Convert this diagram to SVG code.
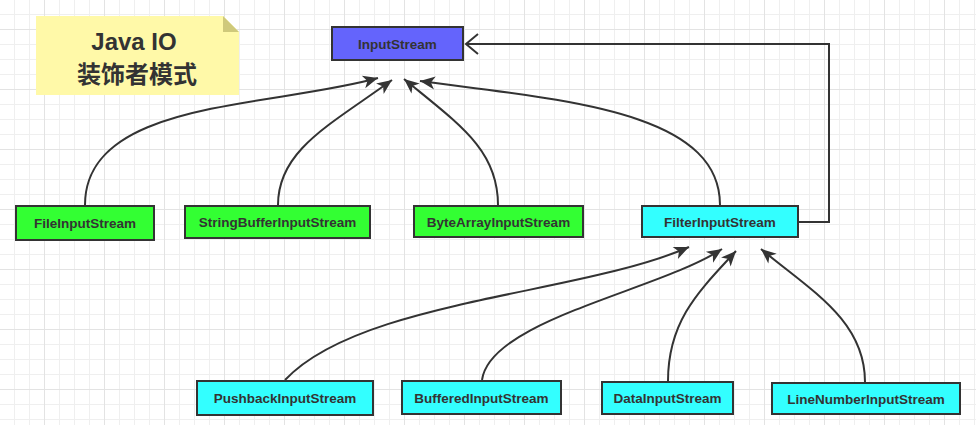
<svg xmlns="http://www.w3.org/2000/svg" width="976" height="425" viewBox="0 0 976 425">
<defs>
  <pattern id="grid" x="14" y="14" width="60" height="60" patternUnits="userSpaceOnUse">
    <rect x="0" y="0" width="1" height="60" fill="#efefef"/>
    <rect x="15" y="0" width="1" height="60" fill="#efefef"/>
    <rect x="45" y="0" width="1" height="60" fill="#efefef"/>
    <rect x="0" y="0" width="60" height="1" fill="#efefef"/>
    <rect x="0" y="30" width="60" height="1" fill="#efefef"/>
    <rect x="0" y="45" width="60" height="1" fill="#efefef"/>
    <rect x="30" y="0" width="1" height="60" fill="#e3e3e3"/>
    <rect x="0" y="15" width="60" height="1" fill="#e3e3e3"/>
  </pattern>
  <marker id="arr" viewBox="-16 -7 17 14" refX="0" refY="0" markerWidth="17" markerHeight="14" markerUnits="userSpaceOnUse" orient="auto">
    <path d="M0,0 L-15,-6.5 L-11,0 L-15,6.5 Z" fill="#333333"/>
  </marker>
  <marker id="open" viewBox="-15 -12 17 24" refX="0" refY="0" markerWidth="17" markerHeight="24" markerUnits="userSpaceOnUse" orient="auto">
    <path d="M-12,-10 L0,0 L-12,10" fill="none" stroke="#333333" stroke-width="2"/>
  </marker>
</defs>
<style>
  .box { stroke: #333333; stroke-width: 2; }
  .green { fill: #33ff33; }
  .cyan { fill: #33ffff; }
  .blue { fill: #6464fc; }
  .lbl { font-family: "Liberation Sans", Arial, sans-serif; font-weight: bold; font-size: 13.5px; fill: #333333; text-anchor: middle; }
  .title { font-family: "Liberation Sans", "Noto Sans CJK SC", sans-serif; font-weight: bold; font-size: 24px; fill: #333333; text-anchor: middle; }
  .link { fill: none; stroke: #333333; stroke-width: 2; }
</style>
<rect x="0" y="0" width="976" height="425" fill="#ffffff"/>
<rect x="0" y="0" width="976" height="425" fill="url(#grid)"/>

<g id="note">
  <path d="M36,16 L223,16 L239,32 L239,95 L36,95 Z" fill="#fff9a8"/>
  <path d="M223,16 L239,32 L223,32 Z" fill="#cfc97b"/>
  <text class="title" x="134" y="50">Java IO</text>
  <text class="title" x="137" y="83" font-family="'Noto Sans CJK SC', sans-serif">装饰者模式</text>
</g>

<g id="connectors">
  <path class="link" marker-end="url(#arr)" d="M85,205 C85,100 270,108 378,78"/>
  <path class="link" marker-end="url(#arr)" d="M278,205 C278,150 330,125 392,80"/>
  <path class="link" marker-end="url(#arr)" d="M498,205 C498,150 460,125 404,79"/>
  <path class="link" marker-end="url(#arr)" d="M720,205 C720,110 560,100 420,81"/>
  <path class="link" marker-end="url(#open)" d="M799,222 L829,222 L829,44 L466,44"/>
  <path class="link" marker-end="url(#arr)" d="M285,380 C360,300 580,295 689,247"/>
  <path class="link" marker-end="url(#arr)" d="M482,380 C490,320 660,290 722,249"/>
  <path class="link" marker-end="url(#arr)" d="M668,381 C668,320 700,290 736,251"/>
  <path class="link" marker-end="url(#arr)" d="M865,382 C865,320 810,290 761,249"/>
</g>

<g id="InputStream">
  <rect class="box blue" x="332" y="27" width="131" height="33"/>
  <text class="lbl" x="397.5" y="48.5">InputStream</text>
</g>
<g id="FileInputStream">
  <rect class="box green" x="16" y="206" width="138" height="34"/>
  <text class="lbl" x="85" y="228">FileInputStream</text>
</g>
<g id="StringBufferInputStream">
  <rect class="box green" x="185" y="206" width="185" height="32"/>
  <text class="lbl" x="277.5" y="227">StringBufferInputStream</text>
</g>
<g id="ByteArrayInputStream">
  <rect class="box green" x="414" y="206" width="169" height="31"/>
  <text class="lbl" x="498.5" y="226.5">ByteArrayInputStream</text>
</g>
<g id="FilterInputStream">
  <rect class="box cyan" x="642" y="206" width="156" height="31"/>
  <text class="lbl" x="720" y="226.5">FilterInputStream</text>
</g>
<g id="PushbackInputStream">
  <rect class="box cyan" x="197" y="381" width="176" height="34"/>
  <text class="lbl" x="285" y="403">PushbackInputStream</text>
</g>
<g id="BufferedInputStream">
  <rect class="box cyan" x="402" y="381" width="159" height="33"/>
  <text class="lbl" x="481.5" y="402.5">BufferedInputStream</text>
</g>
<g id="DataInputStream">
  <rect class="box cyan" x="602" y="382" width="131" height="32"/>
  <text class="lbl" x="667.5" y="403">DataInputStream</text>
</g>
<g id="LineNumberInputStream">
  <rect class="box cyan" x="772" y="383" width="188" height="31"/>
  <text class="lbl" x="866" y="403.5">LineNumberInputStream</text>
</g>
</svg>
